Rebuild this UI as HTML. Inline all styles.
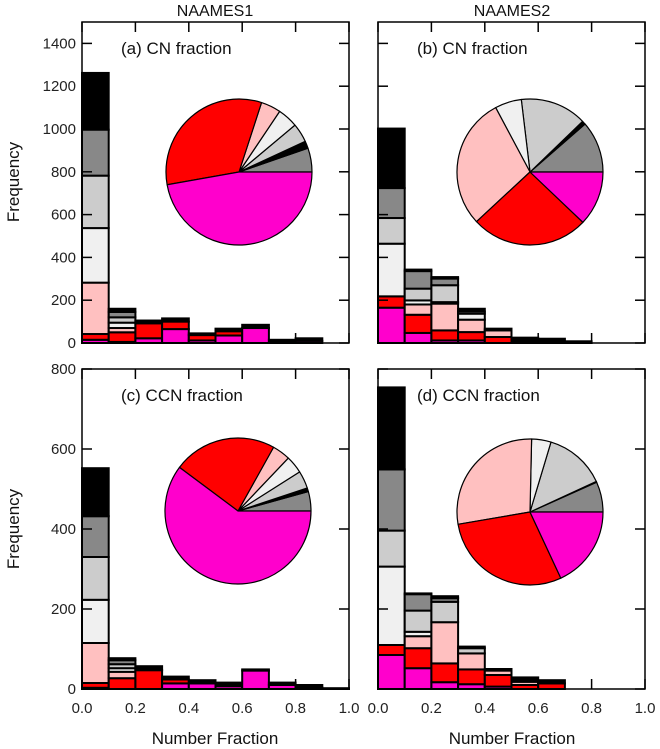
<!DOCTYPE html>
<html><head><meta charset="utf-8"><style>
body{margin:0;background:#fff;}
svg{display:block;font-family:"Liberation Sans",Arial,sans-serif;}
</style></head><body>
<svg id="fig" width="660" height="749" viewBox="0 0 660 749"></svg>
<script>
const categories=["magenta","red","pink","white","lightgray","gray","black"];
const colors=["#ff00cc","#ff0000","#ffc0c0","#f0f0f0","#cccccc","#888888","#000000"];
const binEdges=[0,0.1,0.2,0.3,0.4,0.5,0.6,0.7,0.8,0.9,1.0];
// stacked values per bin: [magenta, red, pink, white, lgray, gray, black]
const histA=[[15,27,240,255,245,215,265],[5,45,20,25,25,25,15],[22,70,0,0,0,0,13],[65,35,0,0,0,0,15],[12,25,0,0,0,0,8],[35,20,0,0,0,0,12],[70,0,0,0,0,0,15],[0,0,0,0,0,0,15],[10,0,0,0,0,0,12],[0,0,0,0,0,0,0]];
const histB=[[165,53,0,246,120,140,278],[47,85,48,19,55,82,7],[12,47,125,7,79,31,7],[12,39,58,28,10,0,13],[0,28,31,0,0,0,8],[0,0,0,0,0,0,25],[0,0,0,0,0,0,20],[0,0,0,0,0,0,8],[0,0,0,0,0,0,0],[0,0,0,0,0,0,0]];
const histC=[[3,12,100,108,107,102,120],[0,27,16,9,10,10,5],[0,47,0,0,0,0,10],[14,10,0,0,0,0,7],[14,0,0,0,0,0,8],[7,0,0,0,0,0,9],[46,0,0,0,0,0,3],[10,0,0,0,0,0,6],[4,0,0,0,0,0,6],[0,0,0,0,0,0,2]];
const histD=[[85,25,0,196,90,153,205],[52,50,30,11,53,41,2],[17,47,103,0,51,9,5],[12,37,40,0,13,0,4],[6,29,11,0,0,0,4],[0,10,8,0,0,0,11],[0,14,0,0,0,0,8],[0,0,0,0,0,0,0],[0,0,0,0,0,0,0],[0,0,0,0,0,0,0]];
// pie fractions in counterclockwise order from east: gray, black, lgray, white, pink, red, magenta
const pieOrder=[5,6,4,3,2,1,0];
const pieA=[5.3,1.6,4.2,4.5,4.4,32.8,47.2];
const pieB=[11.4,0.8,14.7,5.9,29.1,26.0,12.1];
const pieC=[4.3,0.8,3.9,3.9,4.0,22.9,60.2];
const pieD=[6.7,0.2,13.5,4.3,28.1,29.3,18.1];
const yTicksTop=[0,200,400,600,800,1000,1200,1400];
const yTicksBot=[0,200,400,600,800];
const xTicks=[0,0.2,0.4,0.6,0.8,1.0];

const NS="http://www.w3.org/2000/svg";
const svg=document.getElementById('fig');
function mk(tag,attrs,parent){const e=document.createElementNS(NS,tag);for(const k in attrs)e.setAttribute(k,attrs[k]);(parent||svg).appendChild(e);return e;}

const panels=[
 {id:"a",x0:82,x1:349,y0:22,y1:343,ymax:1500,hist:histA,pie:pieA,cx:239,cy:172,label:"(a) CN fraction",yt:yTicksTop,showY:true,showX:false},
 {id:"b",x0:378,x1:645,y0:22,y1:343,ymax:1500,hist:histB,pie:pieB,cx:530,cy:172,label:"(b) CN fraction",yt:yTicksTop,showY:false,showX:false},
 {id:"c",x0:82,x1:349,y0:369,y1:689,ymax:800,hist:histC,pie:pieC,cx:238,cy:511,label:"(c) CCN fraction",yt:yTicksBot,showY:true,showX:true},
 {id:"d",x0:378,x1:645,y0:369,y1:689,ymax:800,hist:histD,pie:pieD,cx:530,cy:512,label:"(d) CCN fraction",yt:yTicksBot,showY:false,showX:true}
];

panels.forEach(p=>{
 const g=mk('g',{});
 
 
 const xs=v=>p.x0+(v-0)/(1-0)*(p.x1-p.x0);
 const ys=v=>p.y1-v/p.ymax*(p.y1-p.y0);
 p.hist.forEach((stack,i)=>{
  let acc=0;
  stack.forEach((v,k)=>{
   if(v<=0)return;
   const r=mk('rect',{x:xs(binEdges[i]),y:ys(acc+v),width:xs(binEdges[i+1])-xs(binEdges[i]),height:ys(acc)-ys(acc+v),fill:colors[k],stroke:"#000","stroke-width":2},g);
   
   
   acc+=v;
  });
 });
 const fr=mk('rect',{x:p.x0,y:p.y0,width:p.x1-p.x0,height:p.y1-p.y0,fill:"none",stroke:"#000","stroke-width":1.5},g);
 
 
 p.yt.forEach(t=>{
  const y=ys(t);
  mk('line',{x1:p.x0,x2:p.x0+10,y1:y,y2:y,stroke:"#000","stroke-width":1.5},g);
  mk('line',{x1:p.x1-10,x2:p.x1,y1:y,y2:y,stroke:"#000","stroke-width":1.5},g);
  if(p.showY){const tx=mk('text',{x:p.x0-6,y:y+5,"text-anchor":"end","font-size":15,fill:"#222"},g);tx.textContent=t;
   
   }
 });
 xTicks.forEach(t=>{
  const x=xs(t);
  mk('line',{x1:x,x2:x,y1:p.y0,y2:p.y0+10,stroke:"#000","stroke-width":1.5},g);
  mk('line',{x1:x,x2:x,y1:p.y1-10,y2:p.y1,stroke:"#000","stroke-width":1.5},g);
  if(p.showX){const tx=mk('text',{x:x,y:p.y1+24,"text-anchor":"middle","font-size":15,fill:"#222"},g);tx.textContent=t.toFixed(1);
   
   }
 });
 const R=73;const tot=p.pie.reduce((a,b)=>a+b,0);let a0=0;
 p.pie.forEach((v,j)=>{
  const a1=a0+v/tot*2*Math.PI;
  const x0=p.cx+R*Math.cos(a0),y0=p.cy-R*Math.sin(a0),x1=p.cx+R*Math.cos(a1),y1=p.cy-R*Math.sin(a1);
  const large=(a1-a0)>Math.PI?1:0;
  const k=pieOrder[j];
  const path=mk('path',{d:`M${p.cx},${p.cy} L${x0},${y0} A${R},${R} 0 ${large} 0 ${x1},${y1} Z`,fill:colors[k],stroke:"#000","stroke-width":1.2,"stroke-linejoin":"round"},g);
  
  
  a0=a1;
 });
 const lb=mk('text',{x:p.x0+39,y:p.y0+32,"font-size":17,fill:"#111"},g);
 lb.textContent=p.label;
 
 
});

function txt(s,attrs,name){const t=mk('text',attrs);t.textContent=s;return t;}
txt("NAAMES1",{x:215,y:16,"text-anchor":"middle","font-size":16,fill:"#111"},"column-title-naames1");
txt("NAAMES2",{x:512,y:16,"text-anchor":"middle","font-size":16,fill:"#111"},"column-title-naames2");
txt("Frequency",{x:19,y:182,"text-anchor":"middle","font-size":17,fill:"#111",transform:"rotate(-90 19 182)"},"y-axis-title-top");
txt("Frequency",{x:19,y:529,"text-anchor":"middle","font-size":17,fill:"#111",transform:"rotate(-90 19 529)"},"y-axis-title-bottom");
txt("Number Fraction",{x:215,y:744,"text-anchor":"middle","font-size":17,fill:"#111"},"x-axis-title-left");
txt("Number Fraction",{x:512,y:744,"text-anchor":"middle","font-size":17,fill:"#111"},"x-axis-title-right");
</script>
</body></html>
